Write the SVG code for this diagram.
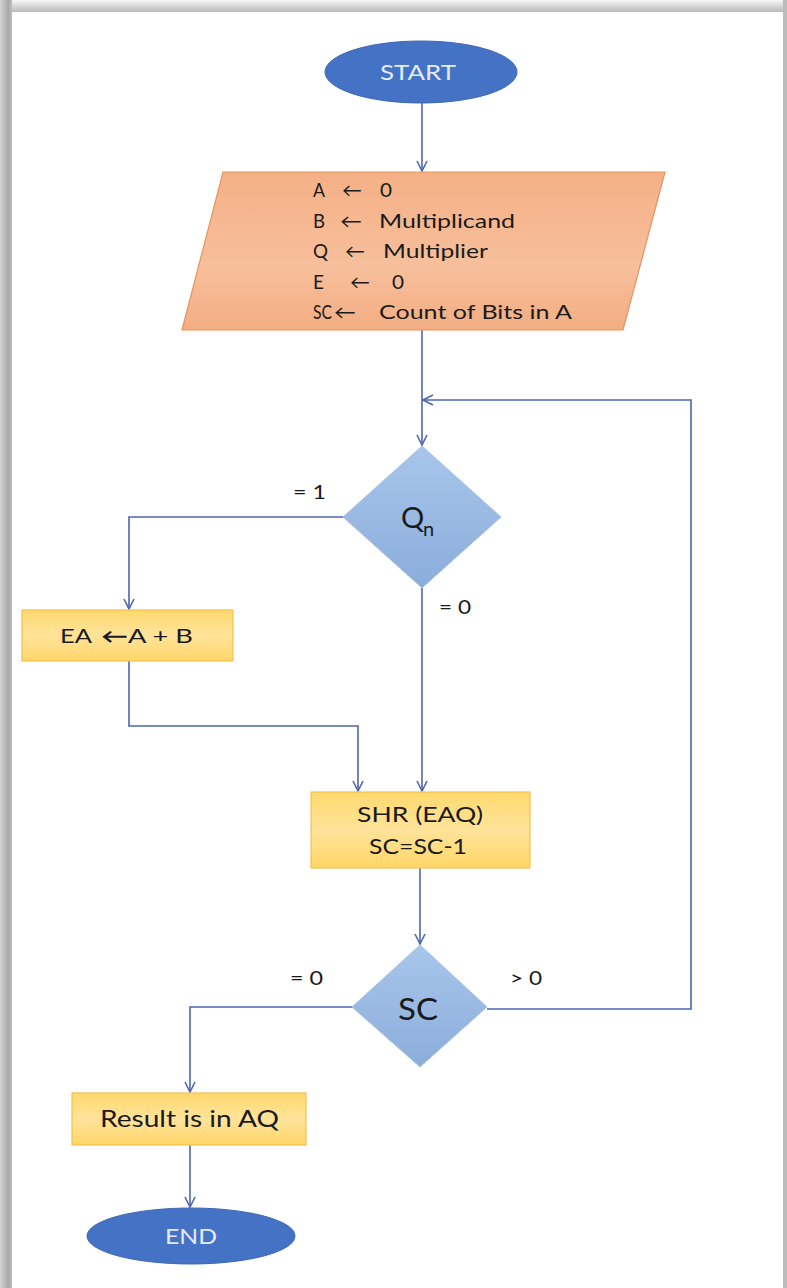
<svg xmlns="http://www.w3.org/2000/svg" width="787" height="1288" viewBox="0 0 787 1288">
<defs>
<style>
.t{font-family:Lato,"Open Sans","Liberation Sans",sans-serif;fill:#1a1a1a}
.w{font-family:Lato,"Open Sans","Liberation Sans",sans-serif;fill:#e4ecfb}
.c{fill:none;stroke:#4d67ae;stroke-width:1.6}
.term{fill:#4472c4;stroke:#3d67b4;stroke-width:1}
.box{fill:url(#gBox);stroke:#f2c14e;stroke-width:1.2}
.dia{fill:url(#gDia);stroke:#a9c3e6;stroke-width:1}
</style>
<linearGradient id="gBox" x1="0" y1="0" x2="0" y2="1">
<stop offset="0" stop-color="#ffd96e"/>
<stop offset="0.5" stop-color="#ffe39a"/>
<stop offset="1" stop-color="#ffd667"/>
</linearGradient>
<linearGradient id="gDia" x1="0" y1="0" x2="0" y2="1">
<stop offset="0" stop-color="#a8c6ec"/>
<stop offset="1" stop-color="#8badda"/>
</linearGradient>
<linearGradient id="gPara" x1="0" y1="0" x2="0" y2="1">
<stop offset="0" stop-color="#f4b086"/>
<stop offset="0.6" stop-color="#f7bf9c"/>
<stop offset="1" stop-color="#f3ad82"/>
</linearGradient>
<linearGradient id="gLeft" x1="0" y1="0" x2="1" y2="0">
<stop offset="0" stop-color="#d4d4d4"/>
<stop offset="0.7" stop-color="#a9a9a9"/>
<stop offset="1" stop-color="#bdbdbd"/>
</linearGradient>
<linearGradient id="gTop" x1="0" y1="0" x2="0" y2="1">
<stop offset="0" stop-color="#f7f7f7"/>
<stop offset="1" stop-color="#b4b4b4"/>
</linearGradient>
<marker id="ah" viewBox="0 0 12 12" refX="11" refY="6" markerWidth="12" markerHeight="12" markerUnits="userSpaceOnUse" orient="auto">
<path d="M1,1 L11,6 L1,11" fill="none" stroke="#4d67ae" stroke-width="1.6"/>
</marker>
</defs>
<rect x="0" y="0" width="787" height="1288" fill="#ffffff"/>
<rect x="0" y="0" width="787" height="13" fill="url(#gTop)"/>
<rect x="0" y="0" width="12" height="1288" fill="url(#gLeft)"/>
<rect x="783" y="0" width="4" height="1288" fill="#bcbcbc"/>
<rect x="12" y="12" width="771" height="1290" fill="#ffffff"/>

<g id="connectors">
<path class="c" d="M422,103 V171" marker-end="url(#ah)"/>
<path class="c" d="M422,330 V445" marker-end="url(#ah)"/>
<path class="c" d="M487,1009 H691 V400 H423" marker-end="url(#ah)"/>
<path class="c" d="M343,517 H129 V609" marker-end="url(#ah)"/>
<path class="c" d="M422,588 V791" marker-end="url(#ah)"/>
<path class="c" d="M129,661 V726 H358 V791" marker-end="url(#ah)"/>
<path class="c" d="M420,868 V944" marker-end="url(#ah)"/>
<path class="c" d="M352,1007 H190 V1092" marker-end="url(#ah)"/>
<path class="c" d="M190,1145 V1207" marker-end="url(#ah)"/>
</g>

<g id="start">
<ellipse class="term" cx="421" cy="72" rx="96" ry="31"/>
<text class="w" x="380" y="80" font-size="21" textLength="76" lengthAdjust="spacingAndGlyphs">START</text>
</g>

<g id="init">
<polygon points="223,172 665,172 623,330 182,330" fill="url(#gPara)" stroke="#e8925e" stroke-width="1.2"/>
<g class="t" font-size="19">
<text x="313" y="197" textLength="12" lengthAdjust="spacingAndGlyphs">A</text>
<text x="342" y="197" textLength="20" lengthAdjust="spacingAndGlyphs">←</text>
<text x="380" y="197" textLength="12" lengthAdjust="spacingAndGlyphs">0</text>
<text x="313" y="228" textLength="12" lengthAdjust="spacingAndGlyphs">B</text>
<text x="340" y="228" textLength="22" lengthAdjust="spacingAndGlyphs">←</text>
<text x="379" y="228" textLength="136" lengthAdjust="spacingAndGlyphs">Multiplicand</text>
<text x="313" y="258" textLength="15" lengthAdjust="spacingAndGlyphs">Q</text>
<text x="345" y="258" textLength="20" lengthAdjust="spacingAndGlyphs">←</text>
<text x="383" y="258" textLength="105" lengthAdjust="spacingAndGlyphs">Multiplier</text>
<text x="313" y="289" textLength="11" lengthAdjust="spacingAndGlyphs">E</text>
<text x="350" y="289" textLength="20" lengthAdjust="spacingAndGlyphs">←</text>
<text x="392" y="289" textLength="12" lengthAdjust="spacingAndGlyphs">0</text>
<text x="313" y="319" textLength="19" lengthAdjust="spacingAndGlyphs">SC</text>
<text x="334" y="319" textLength="22" lengthAdjust="spacingAndGlyphs">←</text>
<text x="379" y="319" textLength="193" lengthAdjust="spacingAndGlyphs">Count of Bits in A</text>
</g>
</g>

<g id="qn">
<polygon class="dia" points="422,446 501,517 422,588 343,517"/>
<text class="t" x="401" y="528" font-size="29">Q</text>
<text class="t" x="423" y="536" font-size="20">n</text>
</g>
<text class="t" x="293" y="499" font-size="19" textLength="33" lengthAdjust="spacingAndGlyphs">= 1</text>
<text class="t" x="439" y="614" font-size="19" textLength="32" lengthAdjust="spacingAndGlyphs">= 0</text>

<g id="add">
<rect class="box" x="22" y="610" width="211" height="51"/>
<text class="t" x="60" y="643" font-size="20" textLength="32" lengthAdjust="spacingAndGlyphs">EA</text>
<text class="t" x="101" y="643" font-size="20" font-weight="bold" textLength="27" lengthAdjust="spacingAndGlyphs">←</text>
<text class="t" x="128" y="643" font-size="20" textLength="65" lengthAdjust="spacingAndGlyphs">A + B</text>
</g>

<g id="shift">
<rect class="box" x="311" y="792" width="219" height="76"/>
<text class="t" x="357" y="822" font-size="21" textLength="126" lengthAdjust="spacingAndGlyphs">SHR (EAQ)</text>
<text class="t" x="369" y="854" font-size="21" textLength="98" lengthAdjust="spacingAndGlyphs">SC=SC-1</text>
</g>

<g id="sc">
<polygon class="dia" points="420,945 487,1007 420,1067 352,1007"/>
<text class="t" x="398" y="1020" font-size="31" textLength="40" lengthAdjust="spacingAndGlyphs">SC</text>
</g>
<text class="t" x="290" y="985" font-size="19" textLength="33" lengthAdjust="spacingAndGlyphs">= 0</text>
<text class="t" x="510" y="985" font-size="19" textLength="32" lengthAdjust="spacingAndGlyphs">&gt; 0</text>

<g id="result">
<rect class="box" x="72" y="1093" width="234" height="52"/>
<text class="t" x="100" y="1127" font-size="23" textLength="179" lengthAdjust="spacingAndGlyphs">Result is in AQ</text>
</g>

<g id="end">
<ellipse class="term" cx="191" cy="1236" rx="104" ry="28"/>
<text class="w" x="165" y="1244" font-size="22" textLength="52" lengthAdjust="spacingAndGlyphs">END</text>
</g>
</svg>
